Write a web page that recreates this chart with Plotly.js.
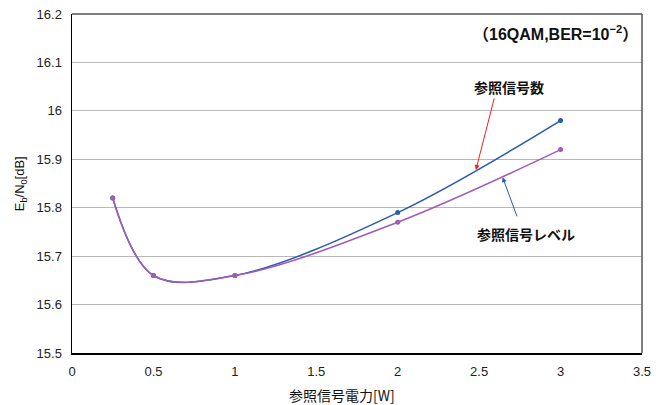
<!DOCTYPE html>
<html><head><meta charset="utf-8">
<script src="https://cdn.plot.ly/plotly-3.0.1.min.js"></script>
<style>body{margin:0;padding:0;background:#fff}#chart{width:656px;height:405px}</style>
</head><body><div id="chart"></div>
<script>
const xPower = [0.25, 0.5, 1, 2, 3];
const ebn0RefCount = [15.82, 15.66, 15.66, 15.79, 15.98];
const ebn0RefLevel = [15.82, 15.66, 15.66, 15.77, 15.92];
const xTicks = [0, 0.5, 1, 1.5, 2, 2.5, 3, 3.5];
const yTicks = [15.5, 15.6, 15.7, 15.8, 15.9, 16, 16.1, 16.2];

const tickFont = {family: 'Liberation Sans, Arial, sans-serif', size: 13, color: '#222'};
const jpFont = {family: 'Noto Sans CJK JP, sans-serif', size: 14, color: '#111'};

const traces = [
  {x: xPower, y: ebn0RefCount, mode: 'lines+markers', name: '参照信号数',
   line: {color: '#2a5bb0', width: 1.5, shape: 'spline', smoothing: 1},
   marker: {color: '#2a5bb0', size: 5}},
  {x: xPower, y: ebn0RefLevel, mode: 'lines+markers', name: '参照信号レベル',
   line: {color: '#a25bb8', width: 1.5, shape: 'spline', smoothing: 1},
   marker: {color: '#a25bb8', size: 5}}
];

const layout = {
  width: 656, height: 405,
  margin: {l: 72, r: 14, t: 14, b: 52},
  paper_bgcolor: '#fff', plot_bgcolor: '#fff',
  showlegend: false,
  xaxis: {range: [0, 3.5], tickvals: xTicks, ticktext: xTicks.map(String),
    showgrid: false, zeroline: false, showline: true, linecolor: '#000', linewidth: 1.5,
    mirror: false, ticks: '', tickfont: tickFont, ticklabelstandoff: 6},
  yaxis: {range: [15.5, 16.2], tickvals: yTicks, ticktext: yTicks.map(String),
    showgrid: true, gridcolor: '#b8b8b8', gridwidth: 1.2, zeroline: false,
    showline: true, linecolor: '#000', linewidth: 1.5, ticks: '', tickfont: tickFont,
    ticklabelstandoff: 6},
  shapes: [
    {type: 'line', xref: 'paper', yref: 'paper', x0: 0, x1: 1, y0: 1, y1: 1, line: {color: '#555', width: 1.5}},
    {type: 'line', xref: 'paper', yref: 'paper', x0: 1, x1: 1, y0: 0, y1: 1, line: {color: '#555', width: 1.5}}
  ],
  annotations: [
    {xref: 'paper', yref: 'paper', x: 0.474, y: -0.124, xanchor: 'center', yanchor: 'middle',
     text: '参照信号電力[W]', showarrow: false, font: {family: jpFont.family, size: 14, color: '#111'}},
    {xref: 'paper', yref: 'paper', x: -0.09, y: 0.5, xanchor: 'center', yanchor: 'middle', textangle: -90,
     text: 'E<sub>b</sub>/N<sub>0</sub>[dB]', showarrow: false, font: {family: tickFont.family, size: 13, color: '#111'}},
    {xref: 'paper', yref: 'paper', x: 0.997, y: 0.945, xanchor: 'right', yanchor: 'middle',
     text: '<b>（16QAM,BER=10<sup>−2</sup>）</b>', showarrow: false, font: {family: 'Liberation Sans, Noto Sans CJK JP, sans-serif', size: 16, color: '#111'}},
    {x: 2.48, y: 15.878, xref: 'x', yref: 'y', axref: 'x', ayref: 'y', ax: 2.595, ay: 16.029,
     showarrow: true, arrowhead: 2, arrowsize: 1, arrowwidth: 1, arrowcolor: '#f02020', text: ''},
    {x: 2.644, y: 15.863, xref: 'x', yref: 'y', axref: 'x', ayref: 'y', ax: 2.736, ay: 15.779,
     showarrow: true, arrowhead: 2, arrowsize: 1, arrowwidth: 1, arrowcolor: '#2a5bb0', text: ''},
    {x: 2.685, y: 16.05, xref: 'x', yref: 'y', text: '<b>参照信号数</b>', showarrow: false,
     xanchor: 'center', yanchor: 'middle', font: jpFont},
    {x: 2.79, y: 15.745, xref: 'x', yref: 'y', text: '<b>参照信号レベル</b>', showarrow: false,
     xanchor: 'center', yanchor: 'middle', font: jpFont}
  ]
};
Plotly.newPlot('chart', traces, layout, {displayModeBar: false, staticPlot: true});
</script></body></html>
